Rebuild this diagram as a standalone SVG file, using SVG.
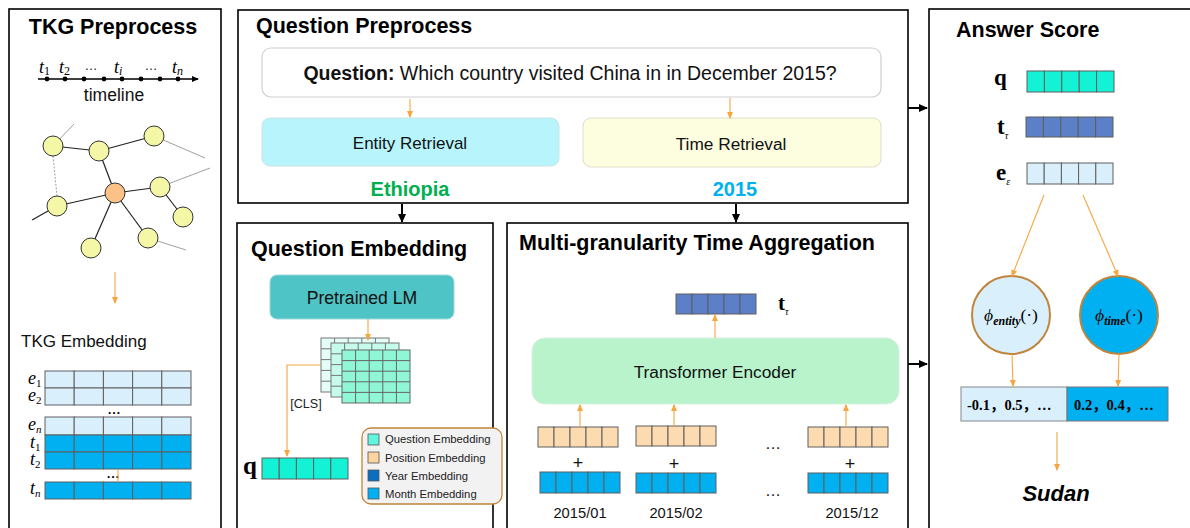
<svg xmlns="http://www.w3.org/2000/svg" width="1190" height="528" viewBox="0 0 1190 528">
  <defs>
    <marker id="oa" markerWidth="8" markerHeight="8" refX="6" refY="4" orient="auto" markerUnits="userSpaceOnUse">
      <path d="M0,1 L7,4 L0,7 Z" fill="#f7a540"/>
    </marker>
    <marker id="ba" markerWidth="10" markerHeight="10" refX="8" refY="5" orient="auto" markerUnits="userSpaceOnUse">
      <path d="M0,1 L9,5 L0,9 Z" fill="#000"/>
    </marker>
    <marker id="ta" markerWidth="8" markerHeight="8" refX="6" refY="4" orient="auto" markerUnits="userSpaceOnUse">
      <path d="M0,1 L7,4 L0,7 Z" fill="#000"/>
    </marker>
  </defs>
  <style>
    .panel { fill: #fff; stroke: #000; stroke-width: 1.6; }
    .title { font-family: "Liberation Sans", Arial, sans-serif; font-weight: bold; font-size: 21.5px; fill: #000; }
    .lbl { font-family: "Liberation Sans", Arial, sans-serif; fill: #111; }
    .small { font-family: "Liberation Sans", Arial, sans-serif; fill: #222; }
    .math { font-family: "Liberation Serif", "DejaVu Serif", serif; font-style: italic; fill: #000; }
    .bold-serif { font-family: "Liberation Serif", "DejaVu Serif", "Noto Sans CJK SC", serif; font-weight: bold; fill: #000; }
    .cell { stroke: #5f5f5f; stroke-width: 1; }
    .ent { fill: #d9f0fc; }
    .tim { fill: #00b0f0; }
    .qv { fill: #14f2d5; }
    .tt { fill: #5b80c8; }
    .pos { fill: #fddbb0; }
    .oline { stroke: #f7a540; stroke-width: 1.1; fill: none; }
    .bline { stroke: #000; stroke-width: 2; fill: none; }
    .node { fill: #f4f7a6; stroke: #333; stroke-width: 1; }
    .edge { stroke: #222; stroke-width: 1.2; }
    .faint { stroke: #888; stroke-width: 0.8; }
    .mx1 { fill: #e4fdf6; stroke: #777; stroke-width: 1; }
    .mx2 { fill: #c4fbeb; stroke: #777; stroke-width: 1; }
    .mx3 { fill: #8ff6d6; stroke: #666; stroke-width: 1; }
  </style>

  <rect width="1190" height="528" fill="#fff"/>

  <!-- TKG preprocessing panel -->
  <g id="tkg-preprocess">
    <rect class="panel" x="9" y="9" width="212" height="530"/>
    <text class="title" x="113" y="34" text-anchor="middle">TKG Preprocess</text>
    <!-- timeline -->
    <line x1="38" y1="79" x2="198" y2="79" stroke="#000" stroke-width="1.5" marker-end="url(#ta)"/>
    <g fill="#000">
      <circle cx="47" cy="79" r="2.4"/><circle cx="65" cy="79" r="2.4"/><circle cx="84" cy="79" r="2.4"/>
      <circle cx="104" cy="79" r="2.4"/><circle cx="122" cy="79" r="2.4"/><circle cx="141" cy="79" r="2.4"/>
      <circle cx="160" cy="79" r="2.4"/><circle cx="178" cy="79" r="2.4"/>
    </g>
    <g class="math" font-size="18">
      <text x="39" y="73">t<tspan font-size="12" font-style="normal" dy="2">1</tspan></text>
      <text x="59" y="73">t<tspan font-size="12" font-style="normal" dy="2">2</tspan></text>
      <text x="114" y="73">t<tspan font-size="12" dy="2">i</tspan></text>
      <text x="172" y="73">t<tspan font-size="12" dy="2">n</tspan></text>
    </g>
    <text x="91" y="70" class="small" font-size="13" text-anchor="middle">…</text>
    <text x="151" y="70" class="small" font-size="13" text-anchor="middle">…</text>
    <text class="lbl" x="114" y="101" text-anchor="middle" font-size="17.5">timeline</text>

    <!-- knowledge graph -->
    <g class="faint">
      <line x1="53" y1="146" x2="74" y2="124"/>
      <line x1="154" y1="136" x2="205" y2="158"/>
      <line x1="160" y1="187" x2="210" y2="168"/>
      <line x1="148" y1="238" x2="186" y2="250"/>
      <line x1="53" y1="156" x2="57" y2="196" stroke-dasharray="2,1.5"/>
    </g>
    <g class="edge">
      <line x1="53" y1="146" x2="99" y2="151"/>
      <line x1="99" y1="151" x2="154" y2="136"/>
      <line x1="99" y1="151" x2="115" y2="193"/>
      <line x1="57" y1="206" x2="115" y2="193"/>
      <line x1="57" y1="206" x2="32" y2="220"/>
      <line x1="115" y1="193" x2="160" y2="187"/>
      <line x1="160" y1="187" x2="183" y2="217"/>
      <line x1="115" y1="193" x2="148" y2="238"/>
      <line x1="115" y1="193" x2="91" y2="248"/>
    </g>
    <circle class="node" cx="53" cy="146" r="10"/>
    <circle class="node" cx="99" cy="151" r="10"/>
    <circle class="node" cx="154" cy="136" r="10"/>
    <circle class="node" cx="57" cy="206" r="10"/>
    <circle class="node" cx="160" cy="187" r="10"/>
    <circle class="node" cx="183" cy="217" r="10"/>
    <circle class="node" cx="148" cy="238" r="10"/>
    <circle class="node" cx="91" cy="248" r="10"/>
    <circle cx="115" cy="193" r="10" fill="#fbc187" stroke="#333" stroke-width="1"/>

    <text class="lbl" x="21" y="347" font-size="17">TKG Embedding</text>

    <!-- embedding rows -->
    <g class="cell ent">
      <rect x="45" y="371" width="29.2" height="17"/><rect x="74.2" y="371" width="29.2" height="17"/><rect x="103.4" y="371" width="29.2" height="17"/><rect x="132.6" y="371" width="29.2" height="17"/><rect x="161.8" y="371" width="29.2" height="17"/>
      <rect x="45" y="388" width="29.2" height="17"/><rect x="74.2" y="388" width="29.2" height="17"/><rect x="103.4" y="388" width="29.2" height="17"/><rect x="132.6" y="388" width="29.2" height="17"/><rect x="161.8" y="388" width="29.2" height="17"/>
      <rect x="45" y="417" width="29.2" height="18"/><rect x="74.2" y="417" width="29.2" height="18"/><rect x="103.4" y="417" width="29.2" height="18"/><rect x="132.6" y="417" width="29.2" height="18"/><rect x="161.8" y="417" width="29.2" height="18"/>
    </g>
    <g class="cell tim">
      <rect x="45" y="435" width="29.2" height="17"/><rect x="74.2" y="435" width="29.2" height="17"/><rect x="103.4" y="435" width="29.2" height="17"/><rect x="132.6" y="435" width="29.2" height="17"/><rect x="161.8" y="435" width="29.2" height="17"/>
      <rect x="45" y="452" width="29.2" height="17"/><rect x="74.2" y="452" width="29.2" height="17"/><rect x="103.4" y="452" width="29.2" height="17"/><rect x="132.6" y="452" width="29.2" height="17"/><rect x="161.8" y="452" width="29.2" height="17"/>
      <rect x="45" y="482" width="29.2" height="17"/><rect x="74.2" y="482" width="29.2" height="17"/><rect x="103.4" y="482" width="29.2" height="17"/><rect x="132.6" y="482" width="29.2" height="17"/><rect x="161.8" y="482" width="29.2" height="17"/>
    </g>
    <text class="bold-serif" x="114" y="414" font-size="13" text-anchor="middle">…</text>
    <text class="bold-serif" x="113" y="478" font-size="13" text-anchor="middle">…</text>
    <line x1="118" y1="470" x2="118" y2="482" class="oline"/>
    <g class="math" font-size="18">
      <text x="28" y="384">e<tspan font-size="11" font-style="normal" dy="3">1</tspan></text>
      <text x="28" y="401">e<tspan font-size="11" font-style="normal" dy="3">2</tspan></text>
      <text x="28" y="430">e<tspan font-size="11" dy="3">n</tspan></text>
      <text x="30" y="448">t<tspan font-size="11" font-style="normal" dy="3">1</tspan></text>
      <text x="30" y="465">t<tspan font-size="11" font-style="normal" dy="3">2</tspan></text>
      <text x="30" y="494">t<tspan font-size="11" dy="3">n</tspan></text>
    </g>
  </g>

  <!-- question preprocessing panel -->
  <g id="question-preprocess">
    <rect class="panel" x="238" y="10" width="670" height="193"/>
    <text class="title" x="256" y="33">Question Preprocess</text>
    <rect x="262" y="48" width="619" height="49" rx="9" fill="#fff" stroke="#d0d0d0" stroke-width="1.2"/>
    <text class="lbl" x="570" y="80" text-anchor="middle" font-size="19.5"><tspan font-weight="bold">Question:</tspan> Which country visited China in in December 2015?</text>
    <rect x="262" y="118" width="297" height="48" rx="8" fill="#b7f4fb" stroke="#cfe3e6" stroke-width="1"/>
    <text class="lbl" x="410" y="149" text-anchor="middle" font-size="17">Entity Retrieval</text>
    <rect x="583" y="118" width="298" height="49" rx="8" fill="#fdfde0" stroke="#dedfcb" stroke-width="1"/>
    <text class="lbl" x="731" y="150" text-anchor="middle" font-size="17.3">Time Retrieval</text>
    <text x="410" y="196" text-anchor="middle" font-family="Liberation Sans, Arial, sans-serif" font-weight="bold" font-size="20" fill="#00b050">Ethiopia</text>
    <text x="735" y="196" text-anchor="middle" font-family="Liberation Sans, Arial, sans-serif" font-weight="bold" font-size="20" fill="#00b0f0">2015</text>
  </g>

  <!-- question embedding panel -->
  <g id="question-embedding">
    <rect class="panel" x="237" y="223" width="256" height="316"/>
    <text class="title" x="251" y="256">Question Embedding</text>
    <rect x="270" y="275" width="184" height="44" rx="7" fill="#4fc4c6" stroke="#9bd7d8" stroke-width="1"/>
    <text class="lbl" x="362" y="304" text-anchor="middle" font-size="17.6">Pretrained LM</text>

    <!-- stacked hidden-state matrices -->
    <g>
      <rect class="mx1" x="321" y="338" width="68" height="54"/>
      <path d="M334.6,338V392M348.2,338V392M361.8,338V392M375.4,338V392M321,348.8H389M321,359.6H389M321,370.4H389M321,381.2H389" stroke="#777" stroke-width="1"/>
      <rect class="mx2" x="331" y="343" width="68" height="54"/>
      <path d="M344.6,343V397M358.2,343V397M371.8,343V397M385.4,343V397M331,353.8H399M331,364.6H399M331,375.4H399M331,386.2H399" stroke="#777" stroke-width="1"/>
      <rect class="mx3" x="342" y="350" width="68" height="53"/>
      <path d="M355.6,350V403M369.2,350V403M382.8,350V403M396.4,350V403M342,360.6H410M342,371.2H410M342,381.8H410M342,392.4H410" stroke="#666" stroke-width="1"/>
    </g>
    <text class="small" x="306" y="408" text-anchor="middle" font-size="12.6">[CLS]</text>

    <text class="bold-serif" x="243" y="474" font-size="25">q</text>
    <g class="cell qv">
      <rect x="262" y="458" width="17.2" height="21"/><rect x="279.2" y="458" width="17.2" height="21"/><rect x="296.4" y="458" width="17.2" height="21"/><rect x="313.6" y="458" width="17.2" height="21"/><rect x="330.8" y="458" width="17.2" height="21"/>
    </g>

    <!-- legend -->
    <rect x="362" y="428" width="140" height="76" rx="9" fill="#f2f2f2" stroke="#c0843a" stroke-width="1.3"/>
    <rect x="368" y="434" width="11" height="11" fill="#5ff5de" stroke="#555" stroke-width="0.8"/>
    <rect x="368" y="452" width="11" height="11" fill="#fdd39e" stroke="#555" stroke-width="0.8"/>
    <rect x="368" y="470" width="11" height="11" fill="#0a6fc0" stroke="#555" stroke-width="0.8"/>
    <rect x="368" y="488" width="11" height="11" fill="#00b0f0" stroke="#555" stroke-width="0.8"/>
    <g class="small" font-size="11.3">
      <text x="385" y="443">Question Embedding</text>
      <text x="385" y="462">Position Embedding</text>
      <text x="385" y="480">Year Embedding</text>
      <text x="385" y="498">Month Embedding</text>
    </g>
  </g>

  <!-- multi-granularity time aggregation panel -->
  <g id="time-aggregation">
    <rect class="panel" x="507" y="223" width="401" height="316"/>
    <text class="title" x="519" y="250">Multi-granularity Time Aggregation</text>
    <g class="cell tt">
      <rect x="676" y="294" width="16" height="20"/><rect x="692" y="294" width="16" height="20"/><rect x="708" y="294" width="16" height="20"/><rect x="724" y="294" width="16" height="20"/><rect x="740" y="294" width="16" height="20"/>
    </g>
    <text class="bold-serif" x="778" y="310" font-size="21">t<tspan class="math" font-weight="normal" font-size="10" dy="5">τ</tspan></text>
    <rect x="532" y="338" width="367" height="66" rx="13" fill="#b8f3cb" stroke="#d8efe0" stroke-width="1"/>
    <text class="lbl" x="715" y="378" text-anchor="middle" font-size="17.3">Transformer Encoder</text>

    <g class="cell pos">
      <rect x="538" y="427" width="16" height="20"/><rect x="554" y="427" width="16" height="20"/><rect x="570" y="427" width="16" height="20"/><rect x="586" y="427" width="16" height="20"/><rect x="602" y="427" width="16" height="20"/>
      <rect x="636" y="426" width="16" height="20"/><rect x="652" y="426" width="16" height="20"/><rect x="668" y="426" width="16" height="20"/><rect x="684" y="426" width="16" height="20"/><rect x="700" y="426" width="16" height="20"/>
      <rect x="808" y="427" width="16" height="20"/><rect x="824" y="427" width="16" height="20"/><rect x="840" y="427" width="16" height="20"/><rect x="856" y="427" width="16" height="20"/><rect x="872" y="427" width="16" height="20"/>
    </g>
    <g class="cell tim">
      <rect x="540" y="472" width="16" height="21"/><rect x="556" y="472" width="16" height="21"/><rect x="572" y="472" width="16" height="21"/><rect x="588" y="472" width="16" height="21"/><rect x="604" y="472" width="16" height="21"/>
      <rect x="636" y="473" width="16" height="20"/><rect x="652" y="473" width="16" height="20"/><rect x="668" y="473" width="16" height="20"/><rect x="684" y="473" width="16" height="20"/><rect x="700" y="473" width="16" height="20"/>
      <rect x="808" y="473" width="16" height="20"/><rect x="824" y="473" width="16" height="20"/><rect x="840" y="473" width="16" height="20"/><rect x="856" y="473" width="16" height="20"/><rect x="872" y="473" width="16" height="20"/>
    </g>
    <g class="lbl" font-size="18" text-anchor="middle">
      <text x="578" y="469">+</text>
      <text x="674" y="470">+</text>
      <text x="850" y="470">+</text>
    </g>
    <text class="lbl" x="773" y="449" text-anchor="middle" font-size="16">…</text>
    <text class="lbl" x="773" y="496" text-anchor="middle" font-size="16">…</text>
    <g class="lbl" font-size="14.7" text-anchor="middle">
      <text x="580" y="518">2015/01</text>
      <text x="676" y="518">2015/02</text>
      <text x="852" y="518">2015/12</text>
    </g>
  </g>

  <!-- answer scoring panel -->
  <g id="answer-score">
    <rect class="panel" x="929" y="9" width="270" height="530"/>
    <text class="title" x="956" y="37">Answer Score</text>
    <text class="bold-serif" x="994" y="85" font-size="23">q</text>
    <g class="cell qv">
      <rect x="1027" y="71" width="17.4" height="21"/><rect x="1044.4" y="71" width="17.4" height="21"/><rect x="1061.8" y="71" width="17.4" height="21"/><rect x="1079.2" y="71" width="17.4" height="21"/><rect x="1096.6" y="71" width="17.4" height="21"/>
    </g>
    <text class="bold-serif" x="997" y="134" font-size="23">t<tspan class="math" font-weight="normal" font-size="10" dy="5">τ</tspan></text>
    <g class="cell tt">
      <rect x="1026" y="117" width="17.4" height="20"/><rect x="1043.4" y="117" width="17.4" height="20"/><rect x="1060.8" y="117" width="17.4" height="20"/><rect x="1078.2" y="117" width="17.4" height="20"/><rect x="1095.6" y="117" width="17.4" height="20"/>
    </g>
    <text class="bold-serif" x="996" y="180" font-size="23">e<tspan class="math" font-weight="normal" font-size="10" dy="5">ε</tspan></text>
    <g class="cell ent">
      <rect x="1027" y="163" width="17.2" height="21"/><rect x="1044.2" y="163" width="17.2" height="21"/><rect x="1061.4" y="163" width="17.2" height="21"/><rect x="1078.6" y="163" width="17.2" height="21"/><rect x="1095.8" y="163" width="17.2" height="21"/>
    </g>

    <circle cx="1011" cy="315" r="39" fill="#d9f0fc" stroke="#c0843a" stroke-width="2"/>
    <circle cx="1119" cy="315" r="39" fill="#00b0f0" stroke="#c0843a" stroke-width="2"/>
    <text class="math" x="1011" y="321" text-anchor="middle" font-size="17.5">ϕ<tspan font-size="12" font-weight="bold" dy="4">entity</tspan><tspan font-style="normal" dy="-4">(·)</tspan></text>
    <text class="math" x="1119" y="321" text-anchor="middle" font-size="17.5">ϕ<tspan font-size="12" font-weight="bold" dy="4">time</tspan><tspan font-style="normal" dy="-4">(·)</tspan></text>

    <rect x="961" y="387" width="106" height="34" fill="#d9f0fc" stroke="#888" stroke-width="1"/>
    <rect x="1067" y="387" width="101" height="34" fill="#00b0f0" stroke="#777" stroke-width="1"/>
    <text class="bold-serif" x="967" y="410" font-size="14.5">-0.1，0.5，…</text>
    <text class="bold-serif" x="1074" y="410" font-size="14.5">0.2，0.4，…</text>
    <text x="1056" y="501" text-anchor="middle" font-family="Liberation Sans, Arial, sans-serif" font-weight="bold" font-style="italic" font-size="22" fill="#000">Sudan</text>
  </g>

  <!-- connectors -->
  <g id="connectors">
    <line class="oline" x1="115" y1="272" x2="115" y2="303" marker-end="url(#oa)"/>
    <line class="oline" x1="410" y1="99" x2="410" y2="117" marker-end="url(#oa)"/>
    <line class="oline" x1="730" y1="98" x2="730" y2="118" marker-end="url(#oa)"/>
    <line class="bline" x1="402" y1="204" x2="402" y2="222" marker-end="url(#ba)"/>
    <line class="bline" x1="736" y1="204" x2="736" y2="222" marker-end="url(#ba)"/>
    <line class="bline" x1="908" y1="108" x2="927" y2="108" marker-end="url(#ba)"/>
    <line class="bline" x1="908" y1="364" x2="927" y2="364" marker-end="url(#ba)"/>
    <line class="oline" x1="368" y1="319" x2="368" y2="340" marker-end="url(#oa)"/>
    <polyline class="oline" points="321,365 287,365 287,456" marker-end="url(#oa)"/>
    <line class="oline" x1="715" y1="338" x2="715" y2="315" marker-end="url(#oa)"/>
    <line class="oline" x1="580" y1="427" x2="580" y2="405" marker-end="url(#oa)"/>
    <line class="oline" x1="674" y1="426" x2="674" y2="405" marker-end="url(#oa)"/>
    <line class="oline" x1="846" y1="427" x2="846" y2="405" marker-end="url(#oa)"/>
    <line class="oline" x1="1044" y1="195" x2="1012" y2="276" marker-end="url(#oa)"/>
    <line class="oline" x1="1083" y1="195" x2="1118" y2="276" marker-end="url(#oa)"/>
    <line class="oline" x1="1012" y1="354" x2="1013" y2="386" marker-end="url(#oa)"/>
    <line class="oline" x1="1119" y1="354" x2="1118" y2="386" marker-end="url(#oa)"/>
    <line class="oline" x1="1057" y1="432" x2="1057" y2="470" marker-end="url(#oa)"/>
  </g>
</svg>
